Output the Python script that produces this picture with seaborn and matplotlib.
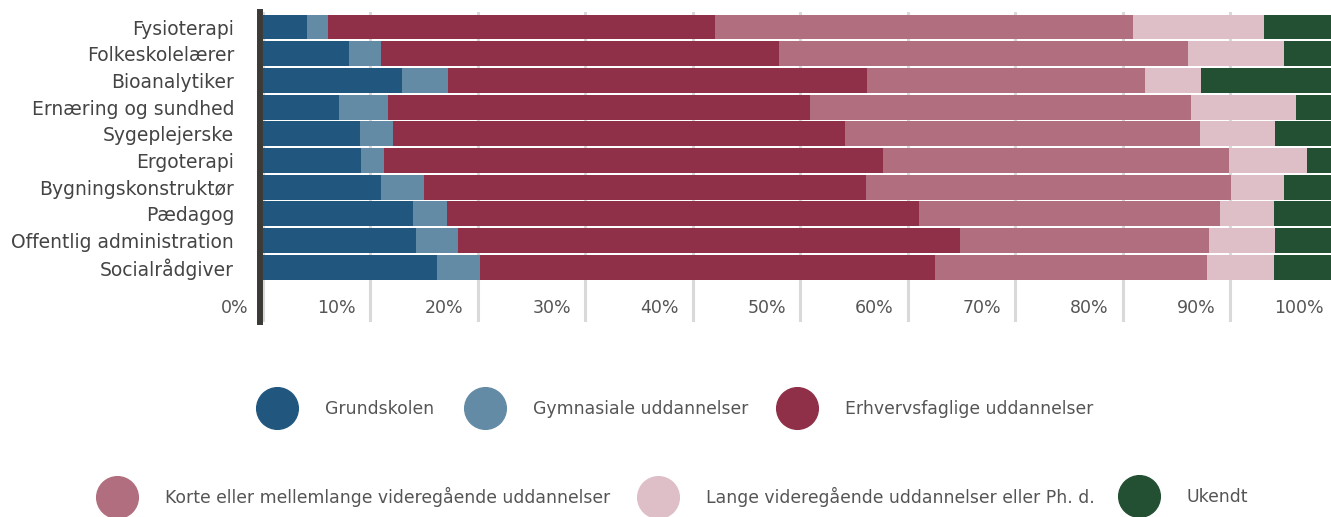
import matplotlib
matplotlib.use("Agg")
import matplotlib.pyplot as plt
import matplotlib.transforms as mtransforms
from matplotlib.lines import Line2D
import seaborn as sns
import pandas as pd
import numpy as np

categories = ["Fysioterapi", "Folkeskolelærer", "Bioanalytiker", "Ernæring og sundhed",
              "Sygeplejerske", "Ergoterapi", "Bygningskonstruktør", "Pædagog",
              "Offentlig administration", "Socialrådgiver"]
series_names = ["Grundskolen", "Gymnasiale uddannelser", "Erhvervsfaglige uddannelser",
                "Korte eller mellemlange videregående uddannelser",
                "Lange videregående uddannelser eller Ph. d.", "Ukendt"]
grundskolen = [4.1, 8.0, 13.0, 7.1, 9.1, 9.2, 11.0, 14.0, 14.3, 16.2]
gymnasiale = [2.0, 3.0, 4.3, 4.6, 3.0, 2.1, 4.0, 3.2, 3.9, 4.0]
erhvervsfaglige = [36.0, 37.0, 38.9, 39.2, 42.1, 46.4, 41.1, 43.9, 46.7, 42.4]
korte = [38.9, 38.1, 25.9, 35.5, 33.0, 32.2, 34.0, 28.0, 23.1, 25.3]
lange = [12.2, 8.9, 5.2, 9.7, 7.0, 7.3, 4.9, 5.0, 6.2, 6.2]
ukendt = [6.9, 4.9, 12.8, 3.9, 5.8, 2.8, 4.9, 5.8, 5.8, 5.8]
tick_values = [0, 10, 20, 30, 40, 50, 60, 70, 80, 90, 100]
tick_labels = ["0%", "10%", "20%", "30%", "40%", "50%", "60%", "70%", "80%", "90%", "100%"]

colors = ["#21577F", "#648BA6", "#902F48", "#B16E7E", "#DEBFC7", "#234F32"]

sns.set_theme(style="white")
plt.rcParams["font.family"] = ["DejaVu Sans"]

W, H = 1331, 517
fig = plt.figure(figsize=(W / 100, H / 100), dpi=100)
x0, x100 = 262.5, 1337.5
ytop, ybot = 12, 322
ax = fig.add_axes([x0 / W, 1 - ybot / H, (x100 - x0) / W, (ybot - ytop) / H])

values = [grundskolen, gymnasiale, erhvervsfaglige, korte, lange, ukendt]
df = pd.DataFrame({"category": categories})
cum = np.zeros(len(categories))
cum_cols = []
for name, vals in zip(series_names, values):
    cum = cum + np.array(vals)
    df[name] = cum
    cum_cols.append(name)

# draw from the outermost cumulative layer inward
for name, col in reversed(list(zip(cum_cols, colors))):
    sns.barplot(data=df, x=name, y="category", order=categories, orient="h",
                color=col, width=0.936, saturation=1, linewidth=0, ax=ax, zorder=3)

ax.set_xlim(0, 100)
ax.set_ylim(11.05, -0.562)
ax.set_xlabel("")
ax.set_ylabel("")

ax.set_xticks(tick_values)
ax.set_xticklabels(tick_labels)
ax.grid(axis="x", color="#d9d9d9", linewidth=2.2, zorder=0)
ax.grid(axis="y", visible=False)
ax.set_axisbelow(True)

for s in ["top", "right", "bottom"]:
    ax.spines[s].set_visible(False)
ax.spines["left"].set_color("#3b3a36")
ax.spines["left"].set_linewidth(4.3)
ax.spines["left"].set_position(("outward", 2.0))
ax.spines["left"].set_zorder(5)

ax.tick_params(axis="x", length=0, pad=-16.5, labelsize=12.5, labelcolor="#555555")
ax.tick_params(axis="y", length=0, pad=18.5, labelsize=13.5, labelcolor="#444444")

offset = mtransforms.ScaledTranslation(-14 / 100, 0, fig.dpi_scale_trans)
for lab in ax.get_xticklabels():
    lab.set_horizontalalignment("right")
    lab.set_transform(lab.get_transform() + offset)

# legend: one entry per anchor position
leg_pos = [(256, 409), (464, 409), (776, 409), (96, 497), (637, 497), (1118, 497)]
fs = 12.4
for name, col, (lx, ly) in zip(series_names, colors, leg_pos):
    h = Line2D([], [], marker="o", linestyle="none", markersize=30,
               markerfacecolor=col, markeredgecolor=col)
    fig.legend(handles=[h], labels=[name], loc="center left",
               bbox_to_anchor=(lx / W, 1 - ly / H), frameon=False,
               fontsize=fs, labelcolor="#555555", borderpad=0, borderaxespad=0,
               handlelength=30 / fs, handletextpad=19.4 / fs)

fig.savefig("out.png", dpi=100)
